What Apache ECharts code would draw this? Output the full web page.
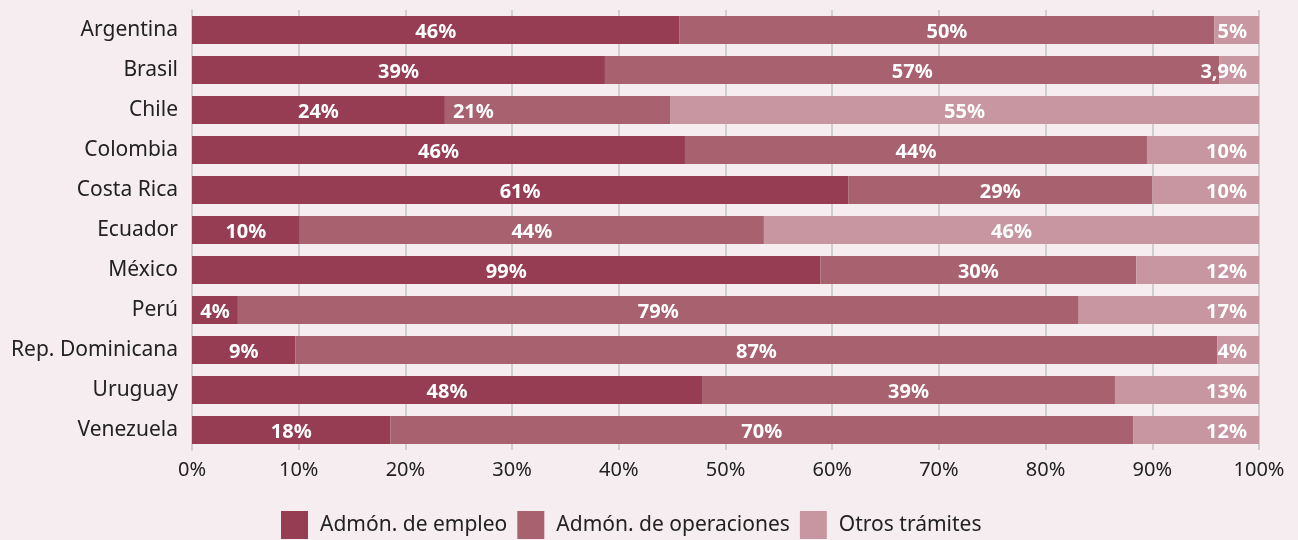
<!DOCTYPE html>
<html><head><meta charset="utf-8">
<script src="https://cdn.jsdelivr.net/npm/echarts@6/dist/echarts.min.js"></script>
<style>html,body{margin:0;padding:0;background:#f6edf1}#c{width:1298px;height:540px}</style>
</head><body><div id="c"></div>
<script>
const categories = ["Argentina","Brasil","Chile","Colombia","Costa Rica","Ecuador","México","Perú","Rep. Dominicana","Uruguay","Venezuela"];
const seriesNames = ["Admón. de empleo","Admón. de operaciones","Otros trámites"];
const empleo = [45.7,38.7,23.7,46.2,61.5,10.1,58.9,4.3,9.7,47.8,18.6];
const operaciones = [50.1,57.6,21.1,43.3,28.5,43.5,29.6,78.8,86.4,38.7,69.6];
const otros = [4.2,3.7,55.2,10.5,10.0,46.4,11.5,16.9,3.9,13.5,11.8];
const empleoLabels = ["46%","39%","24%","46%","61%","10%","99%","4%","9%","48%","18%"];
const operacionesLabels = ["50%","57%","21%","44%","29%","44%","30%","79%","87%","39%","70%"];
const otrosLabels = ["5%","3,9%","55%","10%","10%","46%","12%","17%","4%","13%","12%"];
const xTicks = [0,10,20,30,40,50,60,70,80,90,100];
const colors = ["#963c53","#a8616f","#c796a0"];

const chart = echarts.init(document.getElementById('c'));
function mk(i, vals, labels, posFn){
  return {
    name: seriesNames[i], type:'bar', stack:'t', barWidth:28,
    itemStyle:{color:colors[i]},
    data: vals.map((v,k)=>({value:v, label:Object.assign({formatter: labels[k]}, posFn ? posFn(v,k) : {position:'inside'})})),
    label:{show:true, color:'#fff', fontFamily:'Noto Sans', fontWeight:'bold', fontSize:20, offset:[0,2]}
  };
}
chart.setOption({
  backgroundColor:'#f6edf1',
  animation:false,
  grid:{left:192,right:39,top:10,bottom:90},
  xAxis:{type:'value',min:0,max:100,interval:10,
    axisLabel:{formatter: v => xTicks.includes(v) ? v+'%' : '', color:'#222', fontFamily:'Noto Sans', fontSize:20, margin:10},
    splitLine:{show:true,lineStyle:{color:'#cfcfcf',width:2}},
    axisLine:{show:false}, axisTick:{show:false}},
  yAxis:{type:'category',data:categories,inverse:true,
    axisLine:{show:true,lineStyle:{color:'#cfcfcf',width:2}}, axisTick:{show:false},
    axisLabel:{color:'#222',fontFamily:'Noto Sans',fontSize:21,margin:14,padding:[0,0,6,0]}},
  legend:{bottom:-4,left:276,itemWidth:27,itemHeight:28,itemGap:10,icon:'rect',
    textStyle:{color:'#222',fontFamily:'Noto Sans',fontSize:21,padding:[0,0,0,7]}},
  series:[
    mk(0,empleo,empleoLabels),
    mk(1,operaciones,operacionesLabels, (v,k) => categories[k]==='Chile' ? {position:'insideLeft',distance:8} : {position:'inside'}),
    mk(2,otros,otrosLabels, v => v>30 ? {position:'inside'} : {position:'insideRight',distance:12})
  ]
});
</script></body></html>
